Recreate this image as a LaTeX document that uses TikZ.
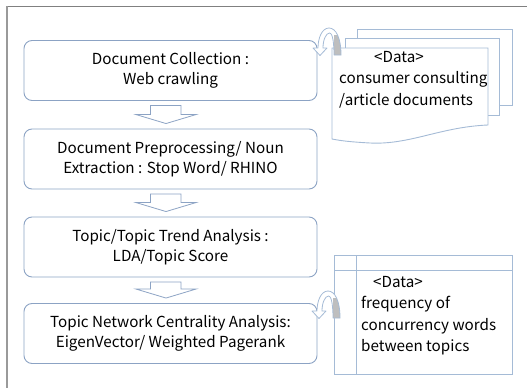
\documentclass[tikz,border=0pt]{standalone}
\usepackage{fontspec}
\setmainfont{Noto Sans CJK KR}
\usetikzlibrary{calc}
\definecolor{boxline}{RGB}{140,163,196}
\definecolor{docline}{RGB}{165,187,214}
\definecolor{frameline}{RGB}{128,128,128}
\definecolor{archgray}{RGB}{190,190,190}
\tikzset{
  stepbox/.style={draw=boxline, line width=0.9pt, rounded corners=8pt, minimum width=293pt, minimum height=60pt, align=center, font=\fontsize{15.2}{20.5}\selectfont, inner sep=0pt},
  blockarrow/.style={draw=boxline, line width=0.8pt, fill=white, line join=miter},
  docpage/.style={draw=docline, line width=0.9pt, fill=white},
  datatext/.style={font=\fontsize{15.2}{21.5}\selectfont, align=left, anchor=north west, inner sep=0pt},
  pics/archarrow/.style={code={
    \path[fill=white, save path=\archp] (21,0) .. controls (21,-17) and (16,-27) .. (9,-27) .. controls (2,-27) and (-2,-17) .. (-2,-7)
      -- (-7,-7) -- (0,0.5) -- (7,-7) -- (3,-7) .. controls (3,-15) and (6,-22) .. (9.5,-22) .. controls (13,-22) and (14,-10) .. (14,0) -- cycle;
    \begin{scope}
      \clip[use path=\archp];
      \fill[archgray] (13.5,-20) rectangle (25,1);
    \end{scope}
    \draw[draw=docline, line width=0.8pt, line join=round, use path=\archp];
  }}
}
\begin{document}
\begin{tikzpicture}[x=1pt,y=-1pt]
\useasboundingbox (0,0) rectangle (527,388);
% frame
\draw[frameline, line width=1pt] (527,6) -- (7,6);
\draw[frameline!80, line width=2pt] (7,6) -- (7,388);

% main boxes
\node[stepbox] (b1) at (170.5,70.5) {Document Collection :\\Web crawling};
\node[stepbox] (b2) at (170.5,159) {Document Preprocessing/ Noun\\Extraction : Stop Word/ RHINO};
\node[stepbox] (b3) at (170.5,247) {Topic/Topic Trend Analysis :\\LDA/Topic Score};
\node[stepbox] (b4) at (170.5,333.5) {Topic Network Centrality Analysis:\\EigenVector/ Weighted Pagerank};

% block arrows
\foreach \a/\b in {b1/b2, b2/b3, b3/b4}{
  \draw[blockarrow]
    ($(\a.south)+(-20,4.5)$) -- ($(\a.south)+(10.5,4.5)$) -- ($(\b.north)+(10.5,-14)$) -- ($(\b.north)+(25.5,-14)$)
    -- ($(\b.north)+(-4.5,-5)$) -- ($(\b.north)+(-34.5,-14)$) -- ($(\b.north)+(-20,-14)$) -- cycle;
}

% multi-document
\draw[docpage] (357,38) -- (357,29) -- (512,29) -- (512,105) -- (499,105);
\draw[docpage] (345,48) -- (345,38) -- (499,38) -- (499,115) -- (488,115);
\draw[docpage] (332,48) -- (488,48) -- (488,125) .. controls (440,127) and (410,145) .. (370,143) .. controls (352,142) and (342,141) .. (332,139) -- cycle;
\node[datatext] (d1) at (339,51) {\hspace*{35pt}<Data>\\consumer consulting\\/article documents};

% data table
\draw[docpage] (334,255) rectangle (512,374);
\draw[docline, line width=0.9pt] (334,270) -- (512,270);
\draw[docline, line width=0.9pt] (356,255) -- (356,374);
\node[datatext] (d2) at (361,276) {\hspace*{12pt}<Data>\\frequency of\\concurrency words\\between topics};

% curved arrows
\pic at (320,55) {archarrow};
\pic at (319,318) {archarrow};
\end{tikzpicture}
\end{document}
